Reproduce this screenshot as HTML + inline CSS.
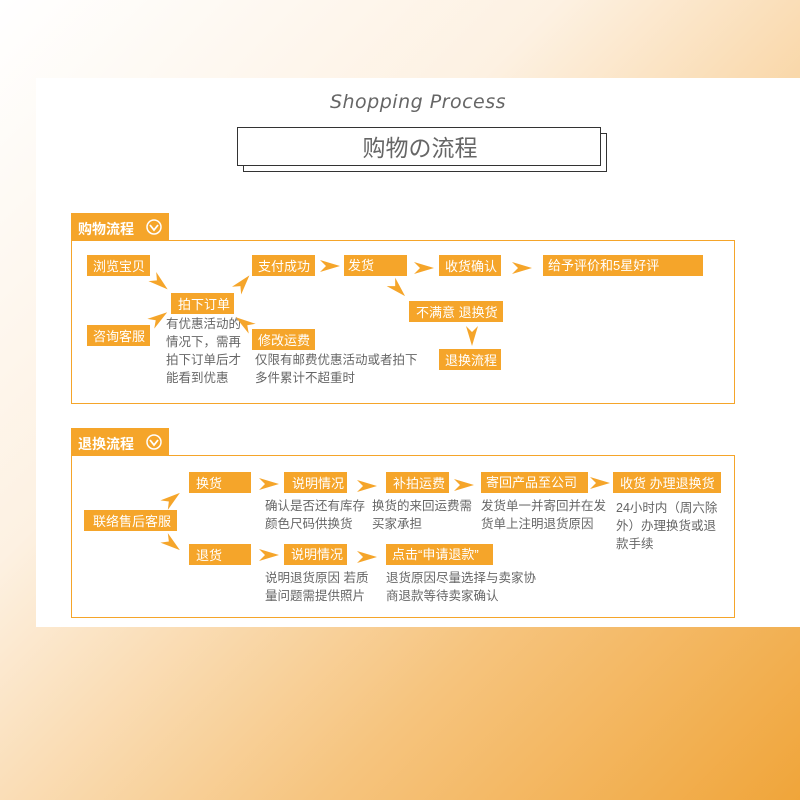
<!DOCTYPE html>
<html><head><meta charset="utf-8"><style>
html,body{margin:0;padding:0;}
body{width:800px;height:800px;overflow:hidden;background:linear-gradient(135deg,#ffffff 0%,#fdf1e2 35%,#f6c47e 70%,#f0a53a 100%);position:relative;font-family:"Liberation Sans","Noto Sans CJK SC",sans-serif;}
.card{position:absolute;left:36px;top:78px;width:764px;height:549px;background:#fff;}
svg{position:absolute;left:0;top:0;}
</style></head><body>
<div class="card"></div>
<svg width="800" height="800" viewBox="0 0 800 800" font-family="Liberation Sans, Noto Sans CJK SC, sans-serif">
<defs>
<polygon id="ar" points="-10,-6 10,0 -10,6 -4,0" fill="#f5a52a"/>
</defs>
<text x="418" y="108" font-size="19" fill="#666" text-anchor="middle" font-style="italic" font-family="DejaVu Sans, sans-serif" letter-spacing="0.5">Shopping Process</text>
<rect x="243.5" y="133.5" width="363" height="38" fill="#fff" stroke="#333" stroke-width="1"/>
<rect x="237.5" y="127.5" width="363" height="38" fill="#fff" stroke="#333" stroke-width="1"/>
<text x="420" y="156" font-size="23" fill="#666" text-anchor="middle">购物の流程</text>

<!-- section 1 -->
<rect x="71" y="213" width="98" height="28" fill="#f5a52a"/>
<text x="78" y="234" font-size="14" font-weight="bold" fill="#fff">购物流程</text>
<circle cx="154" cy="227" r="7" fill="none" stroke="#fff" stroke-width="1.5"/>
<polyline points="150,225 154,230 158,225" fill="none" stroke="#fff" stroke-width="1.8"/>
<rect x="71.5" y="240.5" width="663" height="163" fill="none" stroke="#f5a52a"/>

<g fill="#f5a52a">
<rect x="87" y="255" width="63" height="21"/>
<rect x="87" y="325" width="63" height="21"/>
<rect x="171" y="293" width="63" height="21"/>
<rect x="252" y="255" width="63" height="21"/>
<rect x="252" y="329" width="63" height="21"/>
<rect x="344" y="255" width="63" height="21"/>
<rect x="439" y="255" width="62" height="21"/>
<rect x="543" y="255" width="160" height="21"/>
<rect x="409" y="301" width="94" height="21"/>
<rect x="439" y="349" width="62" height="21"/>
</g>
<g fill="#fff" font-size="13">
<text x="93" y="271">浏览宝贝</text>
<text x="93" y="341">咨询客服</text>
<text x="178" y="309">拍下订单</text>
<text x="258" y="271">支付成功</text>
<text x="258" y="345">修改运费</text>
<text x="348" y="270">发货</text>
<text x="445" y="271">收货确认</text>
<text x="548" y="270">给予评价和5星好评</text>
<text x="416" y="317">不满意 退换货</text>
<text x="445" y="365">退换流程</text>
</g>
<g fill="#666" font-size="12.5">
<text x="166" y="328">有优惠活动的</text>
<text x="166" y="346">情况下，需再</text>
<text x="166" y="364">拍下订单后才</text>
<text x="166" y="382">能看到优惠</text>
<text x="255" y="364">仅限有邮费优惠活动或者拍下</text>
<text x="255" y="382">多件累计不超重时</text>
</g>
<use href="#ar" transform="translate(160,283) rotate(40)"/>
<use href="#ar" transform="translate(159,318) rotate(-35)"/>
<use href="#ar" transform="translate(243,283) rotate(-50)"/>
<use href="#ar" transform="translate(244,323) rotate(-145)"/>
<use href="#ar" transform="translate(330,266)"/>
<use href="#ar" transform="translate(424,268)"/>
<use href="#ar" transform="translate(522,268)"/>
<use href="#ar" transform="translate(398,289) rotate(45)"/>
<use href="#ar" transform="translate(472,336) rotate(90)"/>

<!-- section 2 -->
<rect x="71" y="428" width="98" height="28" fill="#f5a52a"/>
<text x="78" y="449" font-size="14" font-weight="bold" fill="#fff">退换流程</text>
<circle cx="154" cy="442" r="7" fill="none" stroke="#fff" stroke-width="1.5"/>
<polyline points="150,440 154,445 158,440" fill="none" stroke="#fff" stroke-width="1.8"/>
<rect x="71.5" y="455.5" width="663" height="162" fill="none" stroke="#f5a52a"/>

<g fill="#f5a52a">
<rect x="84" y="510" width="93" height="21"/>
<rect x="189" y="472" width="62" height="21"/>
<rect x="189" y="544" width="62" height="21"/>
<rect x="284" y="472" width="63" height="21"/>
<rect x="284" y="544" width="63" height="21"/>
<rect x="386" y="472" width="63" height="21"/>
<rect x="481" y="472" width="107" height="21"/>
<rect x="613" y="472" width="108" height="21"/>
<rect x="386" y="544" width="107" height="21"/>
</g>
<g fill="#fff" font-size="13">
<text x="93" y="526">联络售后客服</text>
<text x="196" y="488">换货</text>
<text x="196" y="560">退货</text>
<text x="292" y="488">说明情况</text>
<text x="291" y="559">说明情况</text>
<text x="393" y="488">补拍运费</text>
<text x="486" y="487">寄回产品至公司</text>
<text x="620" y="488">收货 办理退换货</text>
<text x="392" y="559">点击“申请退款”</text>
</g>
<g fill="#666" font-size="12.5">
<text x="265" y="510">确认是否还有库存</text>
<text x="265" y="528">颜色尺码供换货</text>
<text x="372" y="510">换货的来回运费需</text>
<text x="372" y="528">买家承担</text>
<text x="481" y="510">发货单一并寄回并在发</text>
<text x="481" y="528">货单上注明退货原因</text>
<text x="616" y="512">24小时内（周六除</text>
<text x="616" y="530">外）办理换货或退</text>
<text x="616" y="548">款手续</text>
<text x="265" y="582">说明退货原因 若质</text>
<text x="265" y="600">量问题需提供照片</text>
<text x="386" y="582">退货原因尽量选择与卖家协</text>
<text x="386" y="600">商退款等待卖家确认</text>
</g>
<use href="#ar" transform="translate(172,499) rotate(-38)"/>
<use href="#ar" transform="translate(172,544) rotate(38)"/>
<use href="#ar" transform="translate(269,484)"/>
<use href="#ar" transform="translate(367,486)"/>
<use href="#ar" transform="translate(464,485)"/>
<use href="#ar" transform="translate(600,483)"/>
<use href="#ar" transform="translate(269,555)"/>
<use href="#ar" transform="translate(367,557)"/>
</svg>
</body></html>
